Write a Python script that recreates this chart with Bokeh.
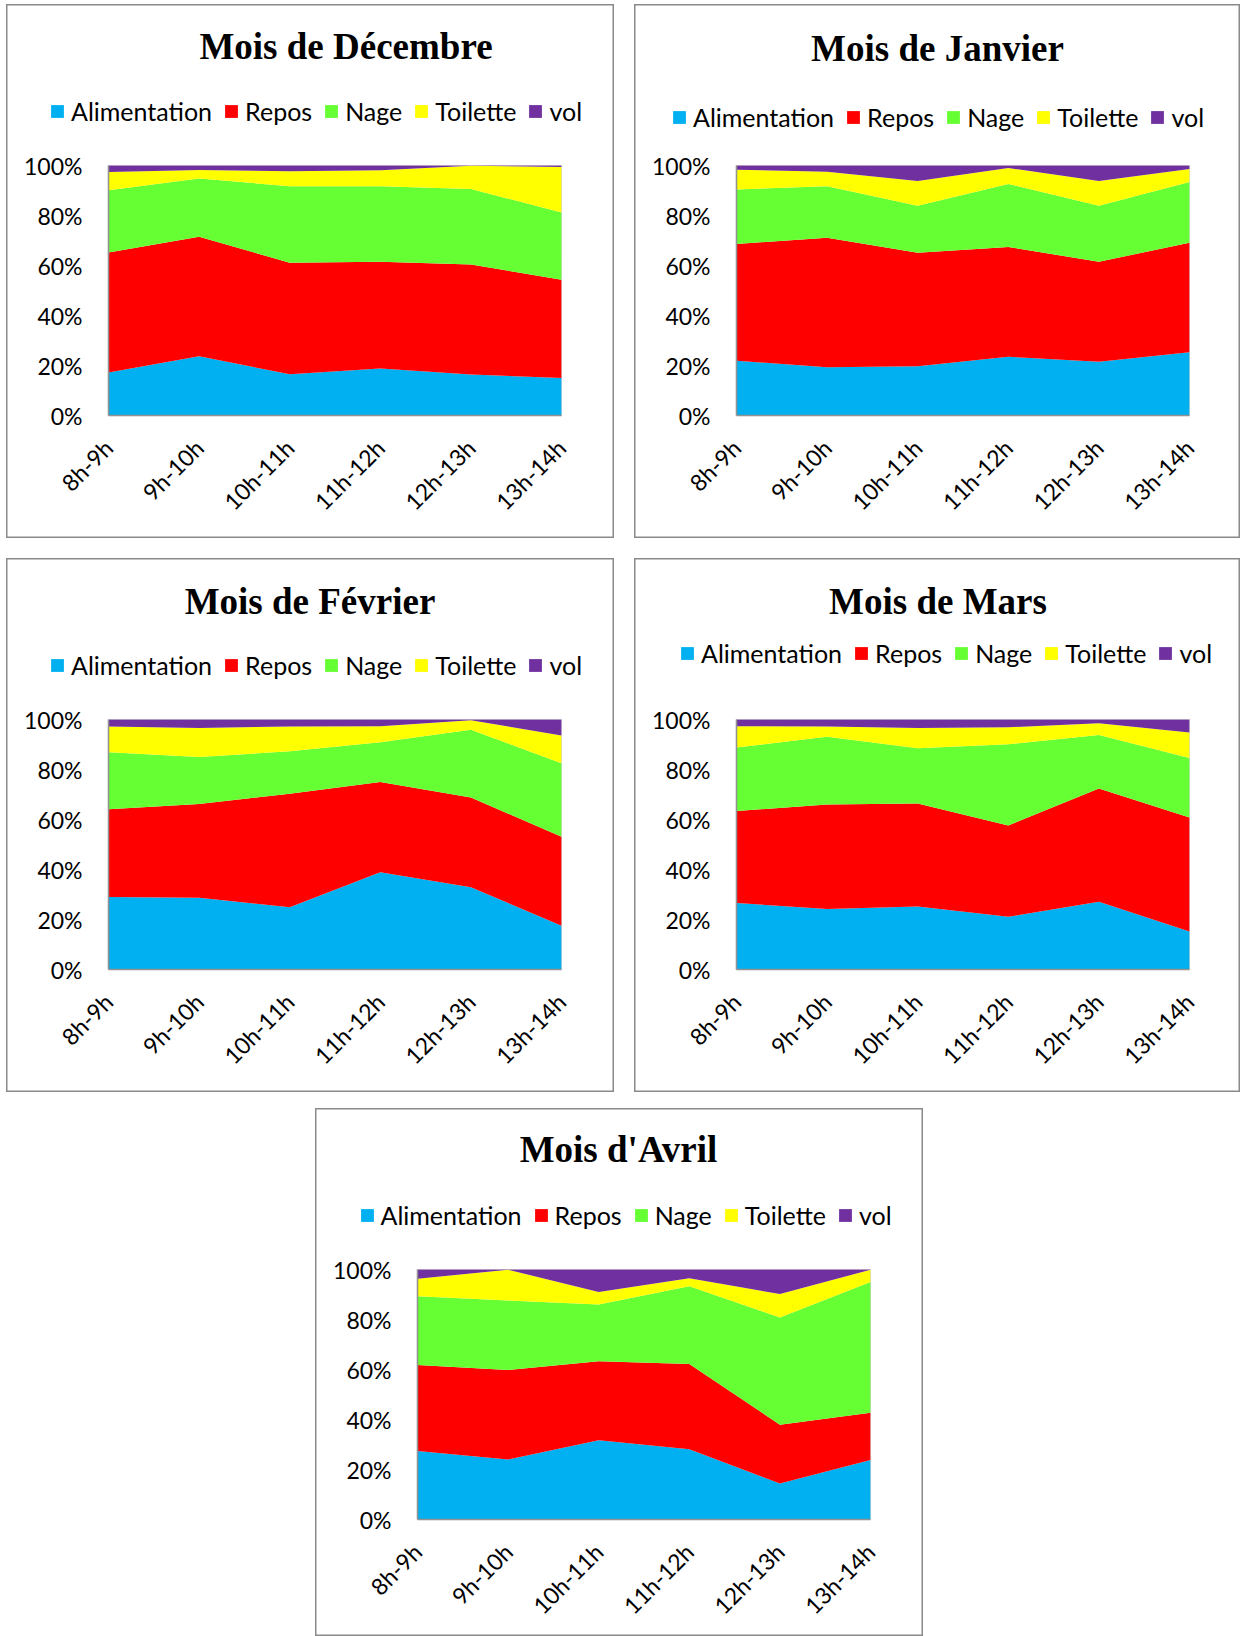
import math
from bokeh.plotting import figure
from bokeh.models import (Range1d, FixedTicker, Label, ColumnDataSource, Legend, LegendItem,
                          Spacer, LinearAxis, BoxAnnotation)
from bokeh.layouts import column, row
from bokeh.embed import file_html
from bokeh.resources import INLINE

categories = ["8h-9h", "9h-10h", "10h-11h", "11h-12h", "12h-13h", "13h-14h"]
series_names = ["Alimentation", "Repos", "Nage", "Toilette", "vol"]
colors = ["#00B0F0", "#FF0000", "#66FF33", "#FFFF00", "#7030A0"]
y_ticks = [0, 20, 40, 60, 80, 100]

# Mois de Décembre (%)
dec_alimentation = [17.2, 23.7, 16.5, 18.8, 16.4, 15.0]
dec_repos = [48.0, 47.8, 44.6, 42.7, 44.0, 39.3]
dec_nage = [24.9, 23.3, 30.6, 30.2, 30.2, 26.9]
dec_toilette = [7.3, 3.4, 6.0, 6.4, 9.3, 18.2]
dec_vol = [2.6, 1.8, 2.3, 1.9, 0.1, 0.6]

# Mois de Janvier (%)
jan_alimentation = [21.9, 19.3, 19.7, 23.5, 21.5, 25.3]
jan_repos = [46.7, 51.8, 45.4, 43.9, 40.0, 43.8]
jan_nage = [21.8, 20.6, 18.8, 25.2, 22.4, 24.3]
jan_toilette = [7.9, 5.8, 9.9, 6.4, 9.9, 5.2]
jan_vol = [1.7, 2.5, 6.2, 1.0, 6.2, 1.4]

# Mois de Février (%)
feb_alimentation = [29.0, 28.7, 24.9, 38.9, 32.9, 17.5]
feb_repos = [35.1, 37.5, 45.4, 36.1, 35.9, 35.6]
feb_nage = [22.8, 18.8, 17.0, 15.9, 27.1, 29.4]
feb_toilette = [10.3, 11.6, 9.9, 6.4, 3.8, 11.1]
feb_vol = [2.8, 3.4, 2.8, 2.7, 0.3, 6.4]

# Mois de Mars (%)
mar_alimentation = [26.6, 24.2, 25.2, 21.1, 27.1, 15.2]
mar_repos = [36.8, 41.8, 41.2, 36.5, 45.3, 45.6]
mar_nage = [25.4, 27.1, 22.1, 32.5, 21.4, 23.8]
mar_toilette = [8.5, 4.1, 8.1, 6.8, 4.7, 10.2]
mar_vol = [2.7, 2.8, 3.4, 3.1, 1.5, 5.2]

# Mois d'Avril (%)
avr_alimentation = [27.4, 24.0, 31.7, 28.1, 14.4, 23.8]
avr_repos = [34.4, 35.8, 31.6, 34.1, 23.5, 18.9]
avr_nage = [27.5, 27.8, 22.7, 31.1, 42.9, 52.3]
avr_toilette = [7.0, 12.3, 5.0, 3.2, 9.4, 4.9]
avr_vol = [3.7, 0.1, 9.0, 3.5, 9.8, 0.1]

# plot-area geometry inside each panel (pixels from panel's top-left)
FL, FT, FW, FH = 102, 161, 453, 250
SANS = "Lato"
FS = "23px"
LEG_FS = "25px"


def make_panel(title, series, w, h, tcx, tby, lx, lcy):
    n = len(categories)
    xmax = n - 1
    sx = xmax / FW          # data units per pixel (x)
    sy = 100 / FH           # data units per pixel (y)
    p = figure(width=w, height=h,
               x_range=Range1d(-FL * sx, (w - FL) * sx),
               y_range=Range1d((FT + FH - h) * sy, (FT + FH) * sy),
               output_backend="svg", toolbar_location=None,
               x_axis_type=None, y_axis_type=None,
               min_border=0)
    data = dict(x=list(range(n)))
    for name, vals in zip(series_names, series):
        data[name] = vals
    src = ColumnDataSource(data)
    rs = p.varea_stack(stackers=series_names, x="x", color=colors, source=src)

    p.add_layout(BoxAnnotation(left=0, right=xmax, bottom=0, top=100, fill_alpha=0,
                               line_color="#a6a6a6", line_width=1.2))

    leg_h = 30
    legend = Legend(items=[LegendItem(label=nm, renderers=[r]) for nm, r in zip(series_names, rs)],
                    orientation="horizontal",
                    location=(lx, h - lcy - leg_h / 2),
                    glyph_width=16, glyph_height=16, label_standoff=6, spacing=11,
                    padding=0, margin=0, border_line_color=None, background_fill_alpha=0,
                    label_text_font=SANS, label_text_font_size=LEG_FS, label_height=leg_h,
                    label_text_color="#000000")
    p.add_layout(legend, "center")

    p.add_layout(Label(x=(tcx - FL) * sx, y=(FT + FH - tby) * sy, text=title,
                       text_font="Liberation Serif", text_font_style="bold", text_font_size="37px",
                       text_align="center", text_baseline="alphabetic", text_color="#000000"))

    xaxis = LinearAxis(fixed_location=0, bounds=(0, xmax),
                       ticker=FixedTicker(ticks=list(range(n))),
                       major_label_overrides={i: c for i, c in enumerate(categories)},
                       major_label_orientation=math.pi / 4,
                       major_label_standoff=28)
    yaxis = LinearAxis(fixed_location=0, bounds=(0, 100),
                       ticker=FixedTicker(ticks=y_ticks),
                       major_label_overrides={v: f"{v}%" for v in y_ticks},
                       major_label_standoff=26)
    for ax in (xaxis, yaxis):
        ax.major_label_text_font = SANS
        ax.major_label_text_font_size = FS
        ax.major_label_text_color = "#000000"
        ax.axis_line_color = "#8c8c8c"
        ax.axis_line_width = 1.5
        ax.major_tick_line_color = None
        ax.minor_tick_line_color = None
        ax.major_tick_out = 0
        ax.major_tick_in = 0
    p.add_layout(xaxis, "below")
    p.add_layout(yaxis, "left")

    p.outline_line_color = "#8a8a8a"
    p.outline_line_width = 2
    p.background_fill_color = "white"
    p.border_fill_color = "white"
    return p


p1 = make_panel("Mois de Décembre",
                [dec_alimentation, dec_repos, dec_nage, dec_toilette, dec_vol],
                608, 534, 339.5, 41.5, 43, 107)
p2 = make_panel("Mois de Janvier",
                [jan_alimentation, jan_repos, jan_nage, jan_toilette, jan_vol],
                606, 534, 303, 43.5, 37, 113)
p3 = make_panel("Mois de Février",
                [feb_alimentation, feb_repos, feb_nage, feb_toilette, feb_vol],
                608, 534, 303.5, 43, 43, 107)
p4 = make_panel("Mois de Mars",
                [mar_alimentation, mar_repos, mar_nage, mar_toilette, mar_vol],
                606, 534, 303.5, 43, 45, 95)
p5 = make_panel("Mois d'Avril",
                [avr_alimentation, avr_repos, avr_nage, avr_toilette, avr_vol],
                608, 528, 303, 41, 43.5, 106.5)

layout = column(
    Spacer(height=4),
    row(Spacer(width=6), p1, Spacer(width=20), p2),
    Spacer(height=20),
    row(Spacer(width=6), p3, Spacer(width=20), p4),
    Spacer(height=16),
    row(Spacer(width=315), p5),
)

open("out.html", "w").write(file_html(layout, INLINE))
